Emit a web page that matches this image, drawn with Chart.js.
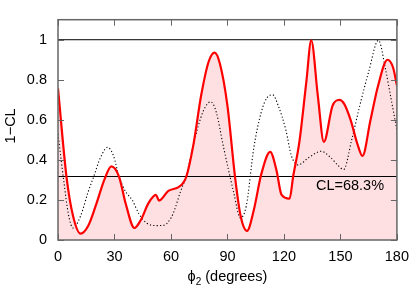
<!DOCTYPE html>
<html lang="en">
<head>
<meta charset="UTF-8">
<title>1-CL vs phi2</title>
<script src="https://cdn.jsdelivr.net/npm/chart.js@4.4.1"></script>
<style>
  html,body{margin:0;padding:0;background:#fff;}
  .wrap{position:relative;width:417px;height:286px;}
</style>
</head>
<body>
<div class="wrap"><canvas id="c" width="417" height="286"></canvas></div>
<script>
// red solid curve (filled), phi2 in degrees
const redX = [0,4.5,8,12,16,20,24.6,28.3,32.4,36,40.6,44,48,52,53.7,58.6,63.8,66.4,68.2,72,76,80,83.2,86,90,94,97,100.4,104,108,112.7,116,118.7,123,124.9,128.2,131.9,134.5,138,141.2,145.8,149.5,152,155.4,159,161.7,166,170,175,178,180];
const redY = [0.757,0.317,0.12,0.032,0.07,0.17,0.30,0.368,0.317,0.18,0.06,0.1,0.183,0.225,0.197,0.245,0.263,0.284,0.317,0.48,0.72,0.89,0.936,0.88,0.67,0.317,0.12,0.046,0.15,0.33,0.44,0.35,0.226,0.206,0.317,0.49,0.79,0.997,0.72,0.49,0.67,0.70,0.68,0.60,0.48,0.42,0.6,0.77,0.90,0.86,0.772];
// black dotted curve
const dotX = [0,3,5.5,8,12,16,19,22.5,26.3,29.5,32.4,36,39.4,43,47.2,52,56,60,62,65,68,72,77,81.1,84,88,93.5,96.8,100,104,108,111,114,117,121,124,127.5,133,139.7,145,149,151.7,156,160,165,170.2,174,177,180];
const dotY = [0.53,0.3,0.13,0.06,0.12,0.24,0.317,0.41,0.463,0.42,0.317,0.24,0.2,0.13,0.084,0.072,0.073,0.11,0.153,0.24,0.317,0.48,0.64,0.69,0.64,0.46,0.23,0.11,0.17,0.46,0.64,0.71,0.725,0.67,0.55,0.42,0.375,0.41,0.443,0.41,0.37,0.352,0.5,0.66,0.84,0.997,0.85,0.7,0.55];
// reference levels
const refLevels = [1, 0.317];
const clLabel = 'CL=68.3%';
const clLabelPos = [137, 0.27];
const xTicks = [0,30,60,90,120,150,180];
const yTicks = [0,0.2,0.4,0.6,0.8,1];

const FONT = '"Liberation Sans", Arial, sans-serif';
const FS = 14.5;

const pts = (xs, ys) => xs.map((x, i) => ({x, y: ys[i]}));

const frame = {
  id: 'frame',
  afterDatasetsDraw(chart) {
    const {ctx, chartArea: a, scales: {x, y}} = chart;
    ctx.save();
    ctx.strokeStyle = '#666';
    ctx.lineWidth = 1;
    // inner tick marks on all four sides
    ctx.beginPath();
    xTicks.forEach(v => {
      const px = Math.round(x.getPixelForValue(v)) + 0.5;
      ctx.moveTo(px, a.bottom); ctx.lineTo(px, a.bottom - 6);
      ctx.moveTo(px, a.top); ctx.lineTo(px, a.top + 6);
    });
    yTicks.forEach(v => {
      const py = Math.round(y.getPixelForValue(v)) + 0.5;
      ctx.moveTo(a.left, py); ctx.lineTo(a.left + 6, py);
      ctx.moveTo(a.right, py); ctx.lineTo(a.right - 6, py);
    });
    ctx.stroke();
    ctx.lineWidth = 1.5;
    ctx.strokeRect(a.left, a.top, a.right - a.left, a.bottom - a.top);
    // CL label
    ctx.fillStyle = '#000';
    ctx.font = FS + 'px ' + FONT;
    ctx.textBaseline = 'middle';
    ctx.textAlign = 'left';
    ctx.fillText(clLabel, x.getPixelForValue(clLabelPos[0]), y.getPixelForValue(clLabelPos[1]));
    ctx.restore();
  },
  afterDraw(chart) {
    const {ctx, chartArea: a} = chart;
    ctx.save();
    ctx.fillStyle = '#000';
    ctx.font = FS + 'px ' + FONT;
    ctx.textBaseline = 'alphabetic';
    // x title: phi_2 (degrees)
    const cx = (a.left + a.right) / 2, by = 281;
    const w1 = ctx.measureText('\u03d5').width;
    ctx.font = '10px ' + FONT;
    const w2 = ctx.measureText('2').width;
    ctx.font = FS + 'px ' + FONT;
    const w3 = ctx.measureText(' (degrees)').width;
    let sx = cx - (w1 + w2 + w3) / 2;
    ctx.textAlign = 'left';
    ctx.fillText('\u03d5', sx, by);
    ctx.font = '10px ' + FONT;
    ctx.fillText('2', sx + w1, by + 4);
    ctx.font = FS + 'px ' + FONT;
    ctx.fillText(' (degrees)', sx + w1 + w2, by);
    // y title
    ctx.translate(11, (a.top + a.bottom) / 2 - 4);
    ctx.rotate(-Math.PI / 2);
    ctx.textAlign = 'center';
    ctx.textBaseline = 'middle';
    ctx.fillText('1\u2212CL', 0, 0);
    ctx.restore();
  }
};

new Chart(document.getElementById('c'), {
  type: 'line',
  data: {
    datasets: [
      {data: pts(redX, redY), borderColor: '#ff0000', borderWidth: 2.2, backgroundColor: 'rgb(255,224,226)',
       fill: 'origin', pointRadius: 0, cubicInterpolationMode: 'monotone', order: 0},
      {data: pts(dotX, dotY), borderColor: '#000', borderWidth: 1.1, borderDash: [1.2, 2.2],
       fill: false, pointRadius: 0, cubicInterpolationMode: 'monotone', order: 1},
      ...refLevels.map(v => ({data: [{x: 0, y: v}, {x: 180, y: v}], borderColor: '#000', borderWidth: 1,
       fill: false, pointRadius: 0, order: 2}))
    ]
  },
  options: {
    responsive: false,
    animation: false,
    layout: {padding: {top: 1, right: 15, left: 0, bottom: 0}},
    plugins: {legend: {display: false}, tooltip: {enabled: false}, filler: {drawTime: 'beforeDatasetsDraw'}},
    scales: {
      x: {
        type: 'linear', min: 0, max: 180,
        afterFit: s => { s.height = 46; },
        afterBuildTicks: s => { s.ticks = xTicks.map(v => ({value: v})); },
        grid: {display: false, drawTicks: false},
        border: {display: false},
        ticks: {padding: 8, color: '#000', font: {family: FONT, size: FS}, maxRotation: 0,
          callback: v => String(v)}
      },
      y: {
        type: 'linear', min: 0, max: 1.1,
        afterFit: s => { s.width = 58; },
        afterBuildTicks: s => { s.ticks = yTicks.map(v => ({value: v})); },
        grid: {display: false, drawTicks: false},
        border: {display: false},
        ticks: {padding: 11, color: '#000', font: {family: FONT, size: FS},
          callback: v => String(+v.toFixed(1))}
      }
    }
  },
  plugins: [frame]
});
</script>
</body>
</html>
